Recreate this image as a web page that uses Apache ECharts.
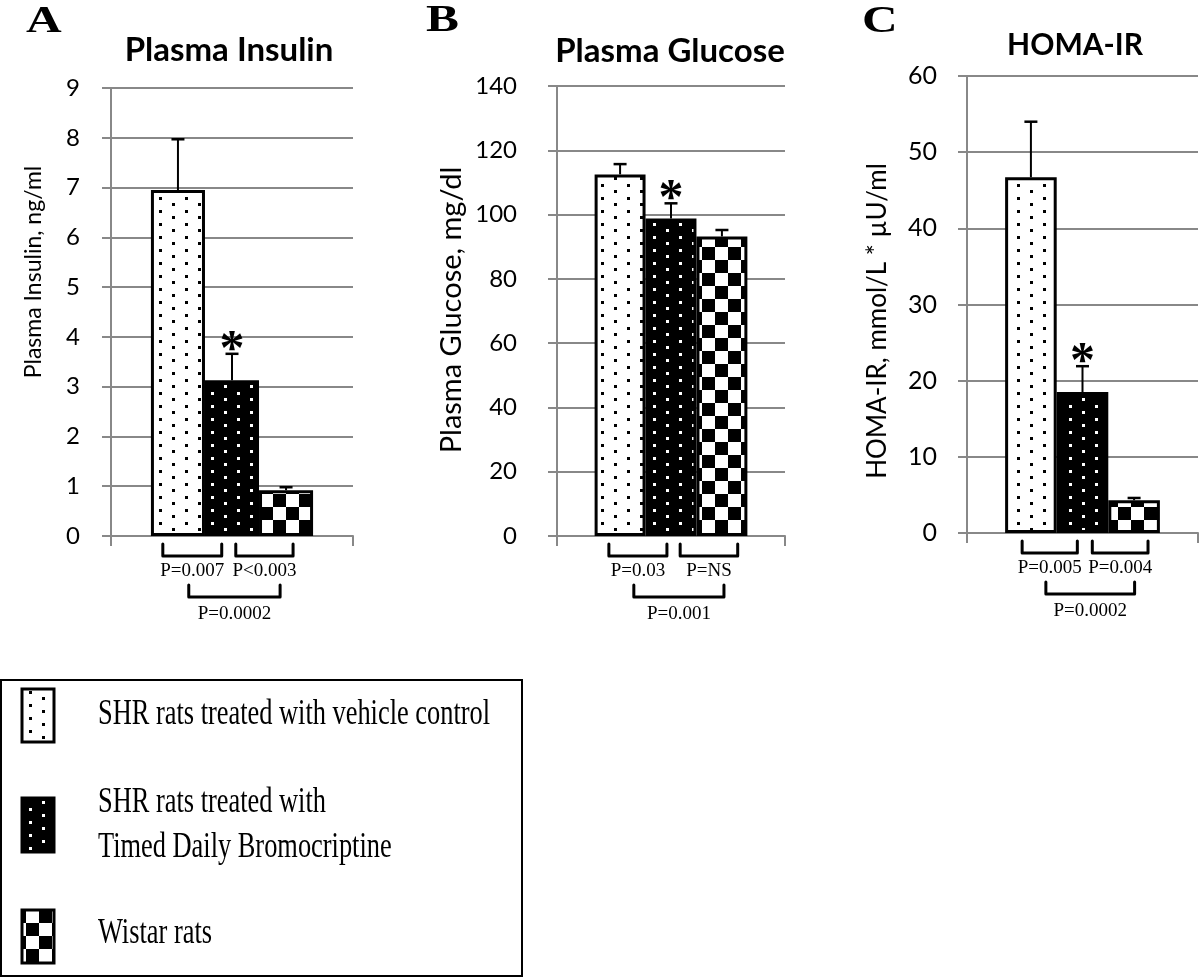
<!DOCTYPE html>
<html><head><meta charset="utf-8">
<script src="https://cdn.jsdelivr.net/npm/echarts@6/dist/echarts.min.js"></script>
<style>html,body{margin:0;padding:0;background:#fff}#c{width:1200px;height:979px}</style>
</head><body><div id="c"></div>
<script>
// ---------------- data ----------------
const categories = [''];
const groupNames = ['SHR rats treated with vehicle control', 'SHR rats treated with Timed Daily Bromocriptine', 'Wistar rats'];
const panelTitles = ['Plasma Insulin', 'Plasma Glucose', 'HOMA-IR'];
const panelLetters = ['A', 'B', 'C'];
const axisNames = ['Plasma Insulin, ng/ml', 'Plasma Glucose, mg/dl', 'HOMA-IR, mmol/L * µU/ml'];
const insulinMean = [6.95, 3.13, 0.92];
const insulinErr = [1.02, 0.53, 0.06];
const glucoseMean = [112.5, 98.8, 93.2];
const glucoseErr = [3.2, 4.7, 2.0];
const homaMean = [46.7, 18.5, 4.3];
const homaErr = [7.3, 3.4, 0.3];
const starred = [false, true, false];
const insulinTicks = [0, 9, 1];
const glucoseTicks = [0, 140, 20];
const homaTicks = [0, 60, 10];
const insulinP = ['P=0.007', 'P<0.003', 'P=0.0002'];
const glucoseP = ['P=0.03', 'P=NS', 'P=0.001'];
const homaP = ['P=0.005', 'P=0.004', 'P=0.0002'];

// ---------------- layout / style ----------------
const means = [insulinMean, glucoseMean, homaMean];
const errs = [insulinErr, glucoseErr, homaErr];
const ticks = [insulinTicks, glucoseTicks, homaTicks];
const pTexts = [insulinP, glucoseP, homaP];
const grids = [
  {left: 111, top: 88, width: 242, height: 448},
  {left: 557, top: 86, width: 228, height: 450},
  {left: 967, top: 76, width: 231, height: 457}
];
const labelMargins = [31, 40, 30];
const labelSizes = [24, 24, 25];
const titleSizes = [33, 33, 30];
const nameSizes = [23, 29, 26];
// bracket spans in bar-width units measured from the first bar's centre; level 0 = upper row
const bracketSpans = [
  [[-0.28, 0.81, 0], [1.07, 2.13, 0], [0.20, 1.89, 1]],
  [[-0.22, 0.92, 0], [1.18, 2.31, 0], [0.27, 2.04, 1]],
  [[-0.17, 0.90, 0], [1.19, 2.27, 0], [0.29, 2.01, 1]]
];
const titlePos = [[229, 50], [670, 51], [1075, 45]];
const letterPos = [[26, 22], [426, 21], [862, 22]];
const axisNamePos = [[34, 272], [452, 310], [878, 321]];
const GAP = 0.33;
const GRAY = '#888888';
const SERIF = '"Liberation Serif", "Times New Roman", serif';
const SANS = 'Lato, "Open Sans", sans-serif';

function dotPattern(bg, fg) {
  const c = document.createElement('canvas');
  c.width = 26; c.height = 26;
  const x = c.getContext('2d');
  x.fillStyle = bg; x.fillRect(0, 0, 26, 26);
  x.fillStyle = fg;
  [[3, 2], [3, 15], [16, 8], [16, 21]].forEach(p => x.fillRect(p[0], p[1], 3, 3));
  return c;
}
function checkPattern() {
  const c = document.createElement('canvas');
  c.width = 26; c.height = 26;
  const x = c.getContext('2d');
  x.fillStyle = '#000'; x.fillRect(0, 0, 26, 26);
  x.fillStyle = '#fff';
  x.fillRect(0, 0, 13, 13); x.fillRect(13, 13, 13, 13);
  return c;
}
const patterns = [
  {image: dotPattern('#fff', '#000'), repeat: 'repeat'},
  {image: dotPattern('#000', '#fff'), repeat: 'repeat'},
  {image: checkPattern(), repeat: 'repeat'}
];

const series = [];
for (let p = 0; p < 3; p++) {
  for (let g = 0; g < 3; g++) {
    series.push({
      type: 'bar', name: groupNames[g], xAxisIndex: p, yAxisIndex: p,
      data: [means[p][g]], barGap: '0%', barCategoryGap: (GAP * 100) + '%',
      itemStyle: {color: patterns[g], borderColor: '#000', borderWidth: 3},
      silent: true, z: 2
    });
  }
  // error bars + asterisks
  series.push({
    type: 'custom', xAxisIndex: p, yAxisIndex: p, silent: true, z: 3, clip: false,
    data: means[p].map((m, g) => [0, m, m + errs[p][g], g, starred[g] ? 1 : 0]),
    encode: {x: 0, y: 2},
    renderItem: function (params, api) {
      const g = api.value(3);
      const band = api.size([1, 0])[0];
      const bw = band * (1 - GAP) / 3;
      const top = api.coord([0, api.value(1)]);
      const up = api.coord([0, api.value(2)]);
      const cx = top[0] + (g - 1) * bw;
      const ch = [
        {type: 'line', shape: {x1: cx, y1: top[1], x2: cx, y2: up[1]}, style: {stroke: '#000', lineWidth: 2}},
        {type: 'line', shape: {x1: cx - 6.5, y1: up[1], x2: cx + 6.5, y2: up[1]}, style: {stroke: '#000', lineWidth: 2.5}}
      ];
      if (api.value(4)) {
        ch.push({type: 'text', x: cx, y: up[1] - 3,
          style: {text: '*', font: 'bold 50px ' + SERIF, fill: '#000', align: 'center', verticalAlign: 'middle', textAlign: 'center', textVerticalAlign: 'middle'}});
      }
      return {type: 'group', children: ch};
    }
  });
  // significance brackets
  series.push({
    type: 'custom', xAxisIndex: p, yAxisIndex: p, silent: true, z: 3, clip: false,
    data: bracketSpans[p].map(() => [0, 0]),
    encode: {x: 0, y: 1},
    renderItem: (function (pp) {
      return function (params, api) {
        const s = bracketSpans[pp][params.dataIndex];
        const band = api.size([1, 0])[0];
        const bw = band * (1 - GAP) / 3;
        const base = api.coord([0, 0]);
        const xl = base[0] + (s[0] - 1) * bw;
        const xr = base[0] + (s[1] - 1) * bw;
        const yt = base[1] + (s[2] ? 49 : 8);
        const yb = base[1] + (s[2] ? 61 : 20);
        const ty = base[1] + (s[2] ? 78 : 35);
        return {type: 'group', children: [
          {type: 'polyline', shape: {points: [[xl, yt], [xl, yb], [xr, yb], [xr, yt]]},
            style: {stroke: '#000', lineWidth: 3, fill: null, lineJoin: 'round', lineCap: 'round'}},
          {type: 'text', x: (xl + xr) / 2, y: ty,
            style: {text: pTexts[pp][params.dataIndex], font: '19px ' + SERIF, fill: '#000', align: 'center', verticalAlign: 'middle', textAlign: 'center', textVerticalAlign: 'middle'}}
        ]};
      };
    })(p)
  });
}

const graphic = [];
for (let p = 0; p < 3; p++) {
  graphic.push({type: 'text', x: titlePos[p][0], y: titlePos[p][1], silent: true,
    style: {text: panelTitles[p], font: 'bold ' + titleSizes[p] + 'px ' + SANS, fill: '#000', align: 'center', verticalAlign: 'middle', textAlign: 'center', textVerticalAlign: 'middle'}});
  graphic.push({type: 'text', x: letterPos[p][0], y: letterPos[p][1], scaleX: 1.3, silent: true,
    style: {text: panelLetters[p], font: 'bold 38px ' + SERIF, fill: '#000', align: 'left', verticalAlign: 'middle', textAlign: 'left', textVerticalAlign: 'middle'}});
  graphic.push({type: 'text', x: axisNamePos[p][0], y: axisNamePos[p][1], rotation: Math.PI / 2, silent: true,
    style: {text: axisNames[p], font: nameSizes[p] + 'px ' + SANS, fill: '#000', align: 'center', verticalAlign: 'middle', textAlign: 'center', textVerticalAlign: 'middle'}});
}
// legend box
graphic.push({type: 'rect', shape: {x: 1, y: 680, width: 521, height: 296}, silent: true,
  style: {fill: '#fff', stroke: '#000', lineWidth: 2}, z: 0});
const legendIcons = [[22, 689, 53], [22, 798, 54], [22, 910, 53]];
legendIcons.forEach((ic, g) => graphic.push({type: 'rect', shape: {x: ic[0], y: ic[1], width: 32, height: ic[2]}, silent: true,
  style: {fill: patterns[g], stroke: '#000', lineWidth: 3}}));
const legendLines = [['SHR rats treated with vehicle control', 715], ['SHR rats treated with', 803], ['Timed Daily Bromocriptine', 848], ['Wistar rats', 934]];
legendLines.forEach(l => graphic.push({type: 'text', x: 98, y: l[1], scaleX: 0.733, silent: true,
  style: {text: l[0], font: '36px ' + SERIF, fill: '#000', align: 'left', verticalAlign: 'middle', textAlign: 'left', textVerticalAlign: 'middle'}}));

const chart = echarts.init(document.getElementById('c'));
chart.setOption({
  animation: false,
  backgroundColor: '#fff',
  grid: grids,
  xAxis: grids.map((g, p) => ({
    type: 'category', gridIndex: p, data: categories,
    axisLine: {show: true, lineStyle: {color: GRAY, width: 2}},
    axisTick: {show: true, length: 10, lineStyle: {color: GRAY, width: 2}},
    axisLabel: {show: false}, splitLine: {show: false}
  })),
  yAxis: grids.map((g, p) => ({
    type: 'value', gridIndex: p, min: ticks[p][0], max: ticks[p][1], interval: ticks[p][2],
    axisLine: {show: true, lineStyle: {color: GRAY, width: 2}},
    axisTick: {show: true, length: 9, lineStyle: {color: GRAY, width: 2}},
    splitLine: {show: true, lineStyle: {color: GRAY, width: 2}},
    axisLabel: {color: '#000', fontFamily: SANS, fontSize: labelSizes[p], margin: labelMargins[p]}
  })),
  series: series,
  graphic: graphic
});
</script>
</body></html>
